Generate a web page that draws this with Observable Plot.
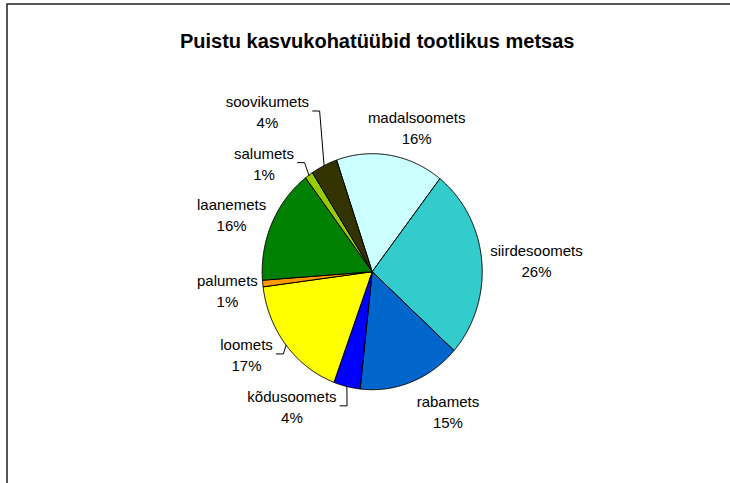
<!DOCTYPE html>
<html>
<head>
<meta charset="utf-8">
<script src="https://cdn.jsdelivr.net/npm/d3@7"></script>
<script src="https://cdn.jsdelivr.net/npm/@observablehq/plot@0.6"></script>
<style>
  html, body { margin: 0; padding: 0; background: #fff; overflow: hidden; }
  #chart svg { display: block; }
</style>
</head>
<body>
<div id="chart"></div>
<script>
// ---- data ----
const title = "Puistu kasvukohatüübid tootlikus metsas";
const names = ["madalsoomets", "siirdesoomets", "rabamets", "kõdusoomets", "loomets", "palumets", "laanemets", "salumets", "soovikumets"];
const shares = [15.8, 26.1, 15.1, 3.9, 17.3, 0.9, 15.8, 1.2, 3.9];
const colors = ["#CCFFFF", "#33CCCC", "#0066CC", "#0000FF", "#FFFF00", "#FF9900", "#008000", "#99CC00", "#333300"];
const withLeader = ["kõdusoomets", "loomets", "salumets", "soovikumets"];

// ---- layout ----
const W = 730, H = 483;
const CX = 371.7, CY = 271.2;       // pie centre in the frame
const RX = 110, RY = 118;           // pie radii (slightly oval, as in the original)
const startDeg = -18.9;             // first slice starts left of 12 o'clock
// label placement: [angle (deg, clockwise from top), distance in pie radii]
const labelPolar = [[18.4, 1.28], [86.8, 1.496], [150.1, 1.381], [212.3, 1.365], [238, 1.347],
                    [262.6, 1.327], [290.3, 1.363], [312.7, 1.338], [324.7, 1.648]];
const FONT = "'Liberation Sans', Arial, Helvetica, sans-serif";
const LABEL_SIZE = 15;
const LABEL_DY = -2;

const rad = Math.PI / 180;
const pt = (a, r = 1) => [RX * r * Math.sin(a), RY * r * Math.cos(a)];

const arcs = d3.pie().sort(null).value(d => d)
  .startAngle(startDeg * rad).endAngle(startDeg * rad + 2 * Math.PI)(shares);

// slice outlines
const sliceMarks = arcs.map((a, i) => {
  const n = Math.max(2, Math.ceil((a.endAngle - a.startAngle) / (0.4 * rad)));
  const verts = [[0, 0]];
  for (let k = 0; k <= n; k++) verts.push(pt(a.startAngle + (a.endAngle - a.startAngle) * k / n));
  verts.push([0, 0]);
  return Plot.line(verts, {x: d => d[0], y: d => d[1], fill: colors[i], stroke: "black", strokeWidth: 1, strokeLinejoin: "round"});
});

// labels
const labels = names.map((name, i) => {
  const [ang, r] = labelPolar[i];
  const [x, y] = pt(ang * rad, r);
  return {name, x, y, text: `${name}\n${Math.round(shares[i])}%`};
});

// leader lines
const ctx = document.createElement("canvas").getContext("2d");
ctx.font = `${LABEL_SIZE}px ${FONT}`;
const leaders = [];
labels.forEach((l, i) => {
  if (!withLeader.includes(l.name)) return;
  const w = ctx.measureText(l.name).width;
  const a = arcs[i];
  const mid = (a.startAngle + a.endAngle) / 2;
  const [ex, ey] = pt(mid, 1);
  leaders.push({name: l.name, x: l.x + w / 2 + 3.5, y: l.y - LABEL_DY});
  leaders.push({name: l.name, x: l.x + w / 2 + 10.5, y: l.y - LABEL_DY});
  leaders.push({name: l.name, x: ex, y: ey});
});

const chart = Plot.plot({
  width: W,
  height: H,
  margin: 0,
  style: {overflow: "hidden", background: "#fff", fontFamily: FONT},
  x: {axis: null, domain: [-CX, W - CX]},
  y: {axis: null, domain: [-(H - CY), CY]},
  marks: [
    Plot.frame({stroke: "#222", strokeWidth: 1.5, insetTop: 3.5, insetLeft: 6.5, insetRight: -10, insetBottom: -10}),
    ...sliceMarks,
    Plot.line(leaders, {x: "x", y: "y", z: "name", stroke: "black", strokeWidth: 1, strokeLinejoin: "miter"}),
    Plot.text(labels, {x: "x", y: "y", text: "text", dy: LABEL_DY, fontSize: LABEL_SIZE, lineHeight: 1.4, fill: "black", fontFamily: FONT}),
    Plot.text([title], {frameAnchor: "top", lineAnchor: "top", dx: 11.7, dy: 33, fontSize: 20, fontWeight: "bold", fill: "black", fontFamily: FONT})
  ]
});
document.getElementById("chart").appendChild(chart);
</script>
</body>
</html>
